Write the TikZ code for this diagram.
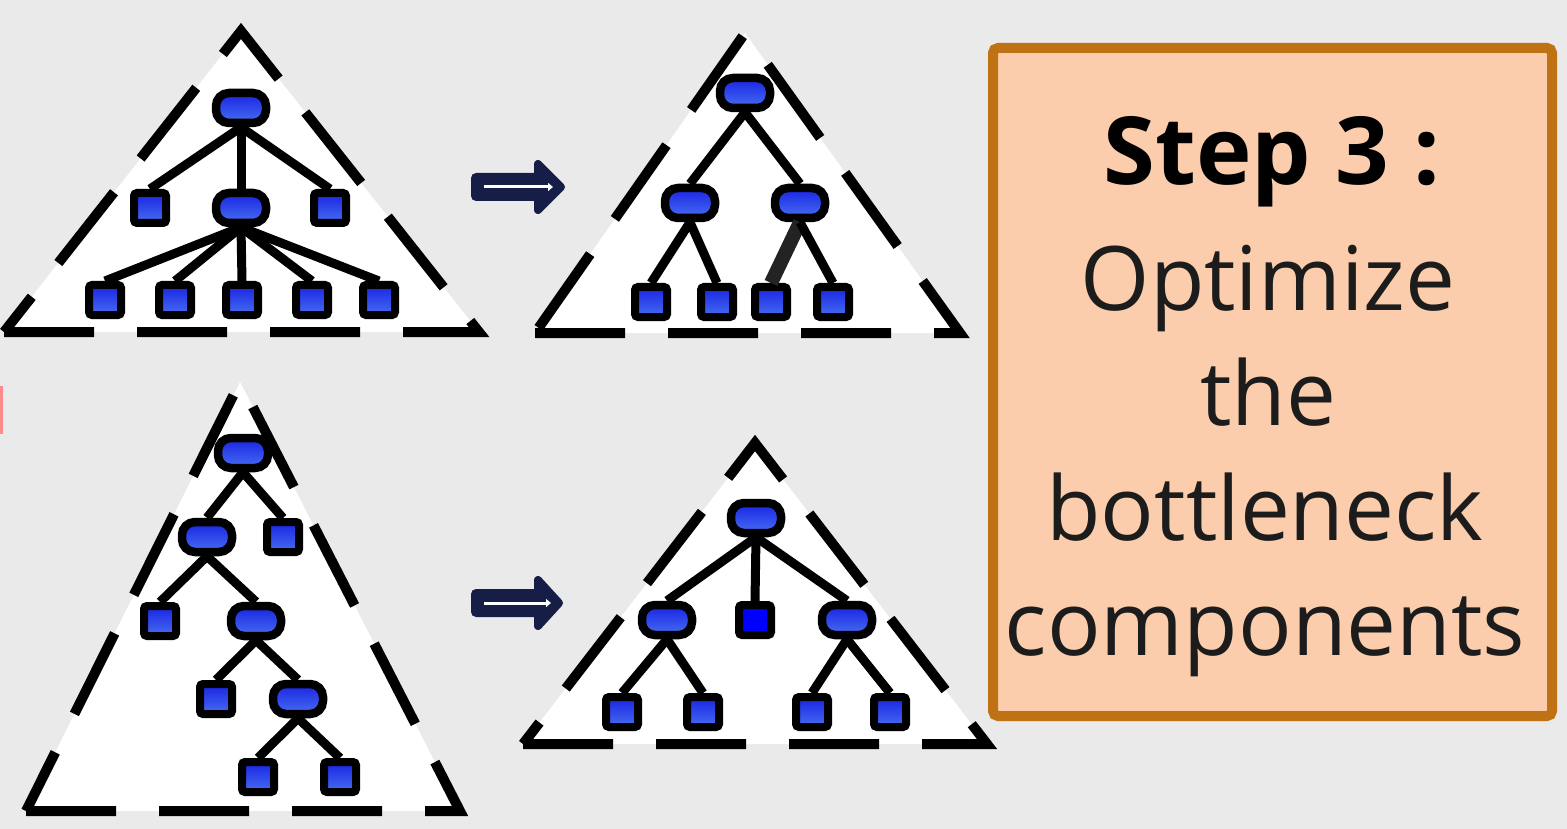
\documentclass[tikz,border=0pt]{standalone}
\usepackage{fontspec}
\newfontfamily\boxfont{Open Sans}
\usetikzlibrary{arrows.meta}

\definecolor{pagegray}{RGB}{234,234,234}
\definecolor{nodetop}{RGB}{25,35,228}
\definecolor{nodebot}{RGB}{70,110,240}
\definecolor{arrownavy}{RGB}{22,30,72}
\definecolor{boxedge}{RGB}{190,114,20}
\definecolor{boxfill}{RGB}{251,205,172}
\definecolor{textgray}{RGB}{28,28,28}

\tikzset{
  inode/.style={draw=black, line width=8.5, rounded corners=13, minimum width=50, minimum height=30, inner sep=0pt, top color=nodetop, bottom color=nodebot},
  leaf/.style={draw=black, line width=8, rounded corners=3, minimum width=32, minimum height=30, inner sep=0pt, top color=nodetop, bottom color=nodebot},
  flatleaf/.style={leaf, top color=blue, bottom color=blue},
  link/.style={line width=9},
  tri/.style={fill=white, draw=black, line width=10, dash pattern=on 90 off 43},
  boxtext/.style={anchor=base, inner sep=0pt, font=\boxfont\fontsize{89}{117}\selectfont},
}

\begin{document}
\begin{tikzpicture}[x=1pt,y=1pt,yscale=-1,xscale=1]
  \useasboundingbox (0,0) rectangle (1567,829);
  \fill[pagegray] (0,0) rectangle (1567,829);
  \fill[red!45!white] (0,386) rectangle (2.5,434);

  %Triangles
  \draw[tri] (4,332) -- (479,332) -- (241,31) -- cycle;
  \draw[tri] (535,333) -- (960,333) -- (745,33) -- cycle;
  \draw[tri] (26,811) -- (460,811) -- (240,382) -- cycle;
  \draw[tri] (523,744) -- (987,744) -- (755,443) -- cycle;

  %Tree top left
  \node[inode] (tlRoot) at (241,108) {};
  \node[leaf]  (tlA)    at (150,208) {};
  \node[inode] (tlMid)  at (241,208) {};
  \node[leaf]  (tlB)    at (330,208) {};
  \node[leaf]  (tlL1)   at (105,300) {};
  \node[leaf]  (tlL2)   at (175,300) {};
  \node[leaf]  (tlL3)   at (242,300) {};
  \node[leaf]  (tlL4)   at (312,300) {};
  \node[leaf]  (tlL5)   at (379,300) {};
  \draw[link] (tlRoot.south) -- (tlA.north);
  \draw[link] (tlRoot.south) -- (tlMid.north);
  \draw[link] (tlRoot.south) -- (tlB.north);
  \draw[link] (tlMid.south) -- (tlL1.north);
  \draw[link] (tlMid.south) -- (tlL2.north);
  \draw[link] (tlMid.south) -- (tlL3.north);
  \draw[link] (tlMid.south) -- (tlL4.north);
  \draw[link] (tlMid.south) -- (tlL5.north);

  %Tree top right
  \node[inode] (trRoot)  at (745,93) {};
  \node[inode] (trLeft)  at (690,203) {};
  \node[inode] (trRight) at (800,203) {};
  \node[leaf]  (trL1)    at (651,302) {};
  \node[leaf]  (trL2)    at (717,302) {};
  \node[leaf]  (trL3)    at (771,302) {};
  \node[leaf]  (trL4)    at (833,302) {};
  \draw[link] (trRoot.south) -- (trLeft.north);
  \draw[link] (trRoot.south) -- (trRight.north);
  \draw[link] (trLeft.south) -- (trL1.north);
  \draw[link] (trLeft.south) -- (trL2.north);
  \draw[line width=14, color={rgb,255:red,35;green,35;blue,35}] (trRight.south) -- (trL3.north);
  \draw[link] (trRight.south) -- (trL4.north);

  %Tree bottom left
  \node[inode] (blRoot) at (243,453) {};
  \node[inode] (blA)    at (207,537) {};
  \node[leaf]  (blB)    at (283,537) {};
  \node[leaf]  (blC)    at (160,621) {};
  \node[inode] (blD)    at (256,621) {};
  \node[leaf]  (blE)    at (216,699) {};
  \node[inode] (blF)    at (298,699) {};
  \node[leaf]  (blG)    at (258,777) {};
  \node[leaf]  (blH)    at (340,777) {};
  \draw[link] (blRoot.south) -- (blA.north);
  \draw[link] (blRoot.south) -- (blB.north);
  \draw[link] (blA.south) -- (blC.north);
  \draw[link] (blA.south) -- (blD.north);
  \draw[link] (blD.south) -- (blE.north);
  \draw[link] (blD.south) -- (blF.north);
  \draw[link] (blF.south) -- (blG.north);
  \draw[link] (blF.south) -- (blH.north);

  %Tree bottom right
  \node[inode]    (brRoot)  at (756,518) {};
  \node[inode]    (brLeft)  at (667,620) {};
  \node[flatleaf] (brMid)   at (755,620) {};
  \node[inode]    (brRight) at (847,620) {};
  \node[leaf]     (brL1)    at (622,712) {};
  \node[leaf]     (brL2)    at (703,712) {};
  \node[leaf]     (brL3)    at (812,712) {};
  \node[leaf]     (brL4)    at (890,712) {};
  \draw[link] (brRoot.south) -- (brLeft.north);
  \draw[link] (brRoot.south) -- (brMid.north);
  \draw[link] (brRoot.south) -- (brRight.north);
  \draw[link] (brLeft.south) -- (brL1.north);
  \draw[link] (brLeft.south) -- (brL2.north);
  \draw[link] (brRight.south) -- (brL3.north);
  \draw[link] (brRight.south) -- (brL4.north);

  %Arrows
  \fill[arrownavy, rounded corners=5] (471,173) rectangle (548,201);
  \filldraw[arrownavy, line width=8, line join=round] (538,164) -- (561,187) -- (538,210) -- cycle;
  \draw[white, line width=3, -{Triangle[length=5,width=8]}] (484,187) -- (553,187);
  \fill[arrownavy, rounded corners=5] (471,589) rectangle (548,617);
  \filldraw[arrownavy, line width=8, line join=round] (538,580) -- (559,603) -- (538,626) -- cycle;
  \draw[white, line width=3, -{Triangle[length=5,width=8]}] (484,603) -- (551,603);

  %Text box
  \draw[draw=boxedge, fill=boxfill, line width=10, rounded corners=5] (993,48) rectangle (1552,716);
  \node[boxtext, font=\boxfont\fontsize{94}{117}\selectfont] (stepline) at (1272,185) {\bfseries Step 3 :};
  \node[boxtext, text=textgray] (optline) at (1268,310) {Optimize};
  \node[boxtext, text=textgray] (theline) at (1268,425) {the};
  \node[boxtext, text=textgray] (botline) at (1265,540) {bottleneck};
  \node[boxtext, text=textgray] (compline) at (1265,655) {components};

\end{tikzpicture}
\end{document}
